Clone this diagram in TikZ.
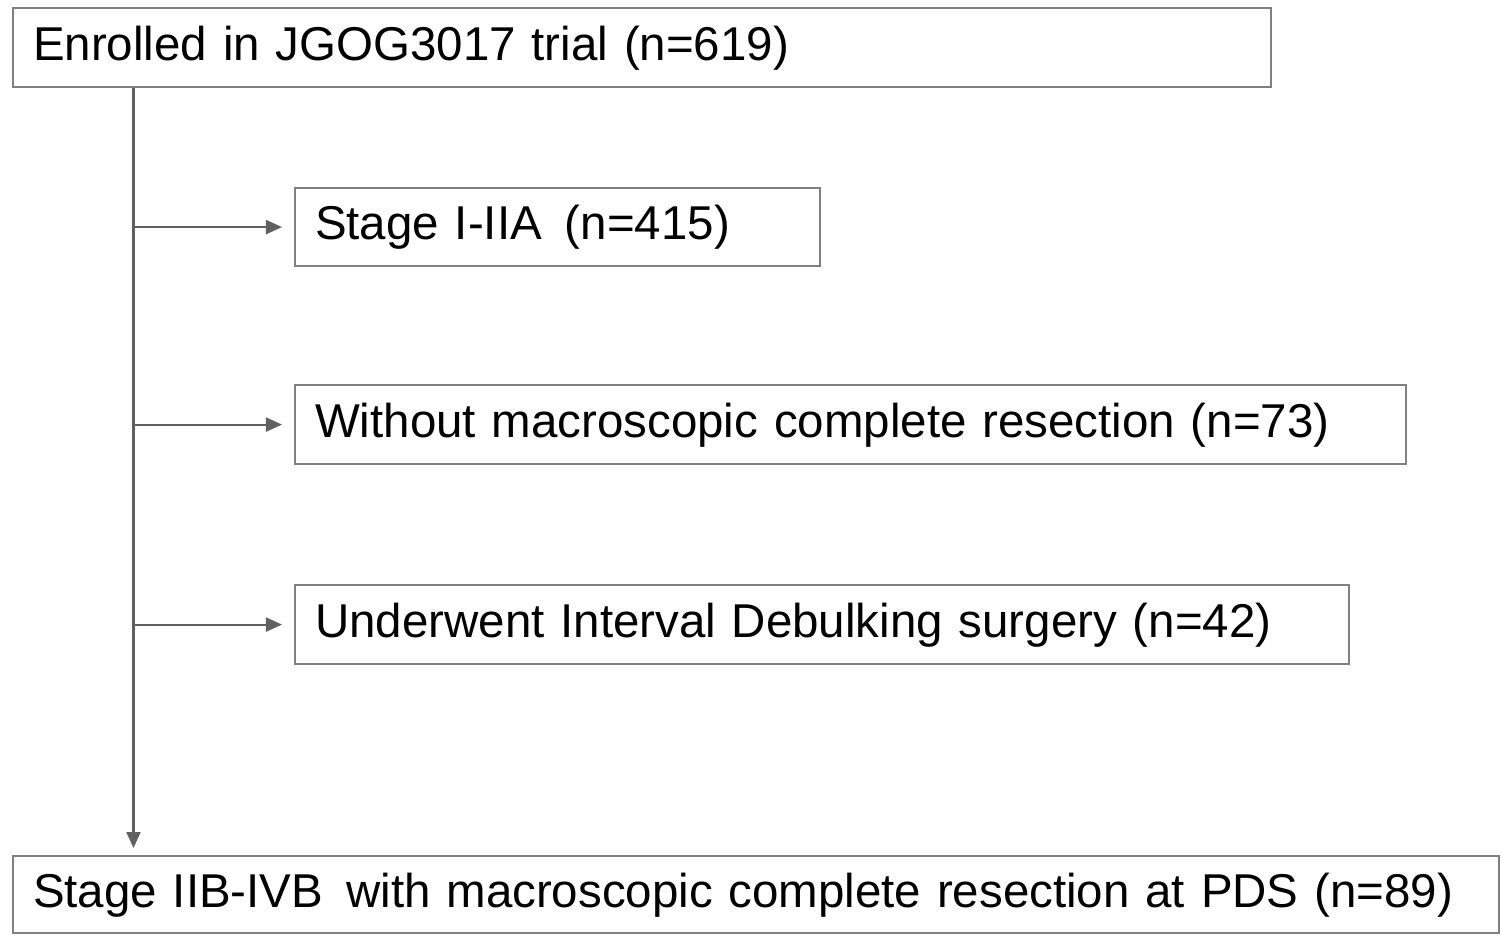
\documentclass[tikz,border=0pt]{standalone}
\usepackage{fontspec}
\setmainfont{Liberation Sans}
\usepackage{xcolor}
\usepackage{tikz}
\usetikzlibrary{arrows.meta,positioning,calc}
\definecolor{boxgray}{HTML}{808080}
\definecolor{linegray}{HTML}{606060}
\tikzset{
  box/.style={draw=boxgray, line width=0.6pt, fill=white, anchor=north west, inner xsep=0.2cm, inner ysep=0pt, align=left, text height=0.72em, text depth=0pt, font=\fontsize{13.5}{16}\selectfont},
  arrow/.style={-{Triangle[length=0.16cm,width=0.14cm]}, draw=linegray, fill=linegray, line width=0.6pt},
}

\begin{document}
\begin{tikzpicture}[x=0.01cm,y=-0.01cm]
\useasboundingbox (0,0) rectangle (1502,938);
\node[box, text width=12.17cm, minimum height=0.79cm] (enrol) at (12,7) {Enrolled in JGOG3017 trial (n=619)};
\node[box, text width=4.85cm, minimum height=0.78cm] (stage) at (294,187) {Stage I-IIA\hspace{0.15em} (n=415)};
\node[box, text width=10.7cm, minimum height=0.79cm] (incomp) at (294,384) {Without macroscopic complete resection (n=73)};
\node[box, text width=10.13cm, minimum height=0.79cm] (ids) at (294,584) {Underwent Interval Debulking surgery (n=42)};
\node[box, text width=14.45cm, minimum height=0.77cm] (final) at (12,855) {Stage IIB-IVB\hspace{0.15em} with macroscopic complete resection at PDS (n=89)};
\coordinate (spine) at (enrol.south west -| 133.5,0);
\draw[arrow, shorten >=0.07cm] (spine) -- (spine |- final.north);
\draw[arrow, shorten >=0.12cm] (spine |- stage.west) -- (stage.west);
\draw[arrow, shorten >=0.12cm] (spine |- incomp.west) -- (incomp.west);
\draw[arrow, shorten >=0.12cm] (spine |- ids.west) -- (ids.west);
\end{tikzpicture}
\end{document}
